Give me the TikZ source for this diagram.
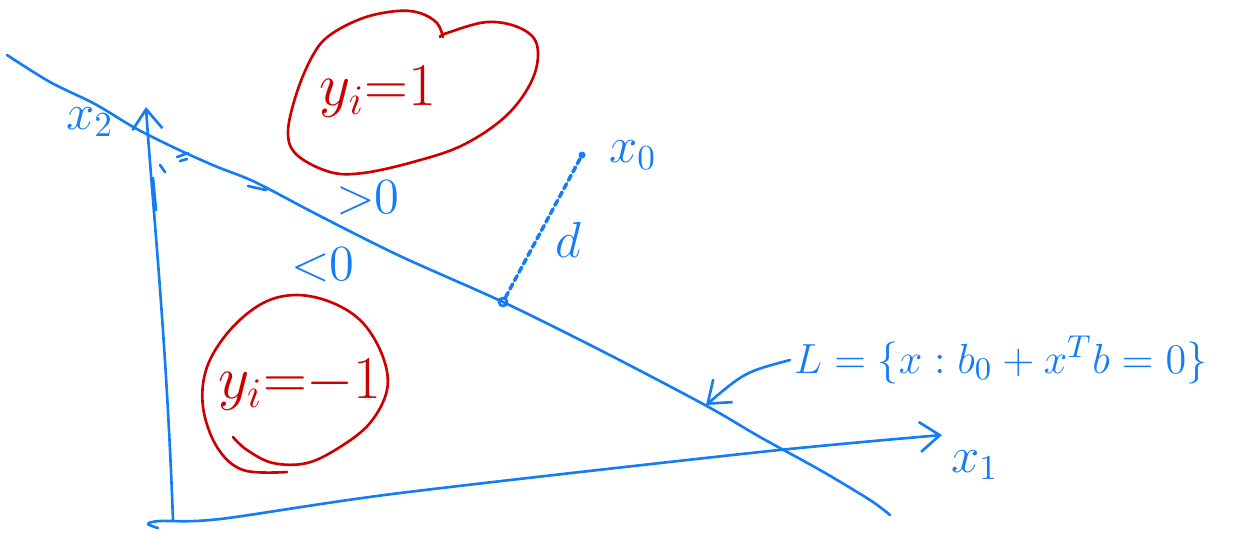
\documentclass[tikz,border=0pt]{standalone}
\usetikzlibrary{arrows.meta}
\definecolor{penblue}{RGB}{20,125,245}
\definecolor{penred}{RGB}{205,0,0}
\begin{document}
\begin{tikzpicture}[
    x=0.1mm, y=-0.1mm,
    bluepen/.style={draw=penblue, line width=0.75pt, line cap=round, line join=round},
    redpen/.style={draw=penred, line width=0.75pt, line cap=round, line join=round},
    bluelbl/.style={text=penblue, font=\Large, inner sep=1pt},
    redlbl/.style={text=penred, font=\LARGE, inner sep=1pt},
    barb/.style={-{Straight Barb[length=2mm,width=3mm]}},
    dotpt/.style={circle, inner sep=0pt, minimum size=0.7mm},
  ]
  \useasboundingbox (0,0) rectangle (1235,535);
  % axes
  \coordinate (O) at (173,520);
  \coordinate (x2top) at (146,107);
  \coordinate (x1end) at (942,435);
  \draw[bluepen, barb] (O) .. controls (166,330) and (152,200) .. (x2top);
  \draw[bluepen, barb] plot[smooth] coordinates {(158,528) (148,524) (160,521)
    (220,519) (400,493) (760,452) (x1end)};
  % separating line L
  \draw[bluepen] plot[smooth, tension=0.5] coordinates {(7,55) (50,82) (95,104)
    (135,128) (175,148) (215,166) (255,182) (320,216) (400,256) (503,302)
    (600,350) (705,405) (760,437) (820,470) (870,500) (890,515)};
  % scribbles near the corner
  \draw[bluepen] (160,165) -- (165,172);
  \draw[bluepen] (177,157) -- (188,153);
  \draw[bluepen] (180,161) -- (187,159);
  \draw[bluepen] (153,178) -- (156,210);
  \draw[bluepen] (248,186) -- (266,190);
  % point on L and point x0
  \node[dotpt, draw=penblue, line width=0.75pt, minimum size=0.8mm] (P) at (503,302) {};
  \node[dotpt, fill=penblue] (X0) at (582,155) {};
  \draw[bluepen, line width=1pt, dash pattern=on 1.6pt off 1.1pt] (P) -- (X0);
  % labels
  \node[bluelbl] (x2lbl) at (90,122) {$x_2$};
  \node[bluelbl] (x0lbl) at (633,155) {$x_0$};
  \node[bluelbl] (dlbl) at (568,240) {$d$};
  \node[bluelbl] (poslbl) at (368,198) {${>}0$};
  \node[bluelbl] (neglbl) at (323,265) {${<}0$};
  \node[bluelbl] (x1lbl) at (975,465) {$x_1$};
  \node[bluelbl, font=\fontsize{13}{15}\selectfont, anchor=west] (Leq) at (790,360)
    {$L=\{x : b_0 + x^T b = 0\}$};
  \coordinate (Lhit) at (706,405);
  \draw[bluepen, barb] (Leq.west) .. controls (745,372) .. (Lhit);
  % class regions
  \draw[redpen] plot[smooth, tension=0.6] coordinates {(443,37) (437,23) (420,13)
    (397,11) (363,18) (330,35) (313,55) (297,92) (288,132) (297,155) (330,172)
    (363,173) (413,162) (463,145) (507,115) (533,78) (537,45) (520,28) (487,22)
    (447,33) (440,37)};
  \draw[redpen] plot[smooth, tension=0.6] coordinates {(287,472) (243,470)
    (217,447) (203,407) (207,367) (230,330) (263,303) (297,295) (333,303)
    (363,323) (383,357) (387,390) (370,423) (340,447) (307,463) (273,463)
    (247,450) (233,437)};
  \node[redlbl] (ypos) at (378,92) {$y_i{=}1$};
  \node[redlbl] (yneg) at (300,385) {$y_i{=}{-}1$};
\end{tikzpicture}
\end{document}
